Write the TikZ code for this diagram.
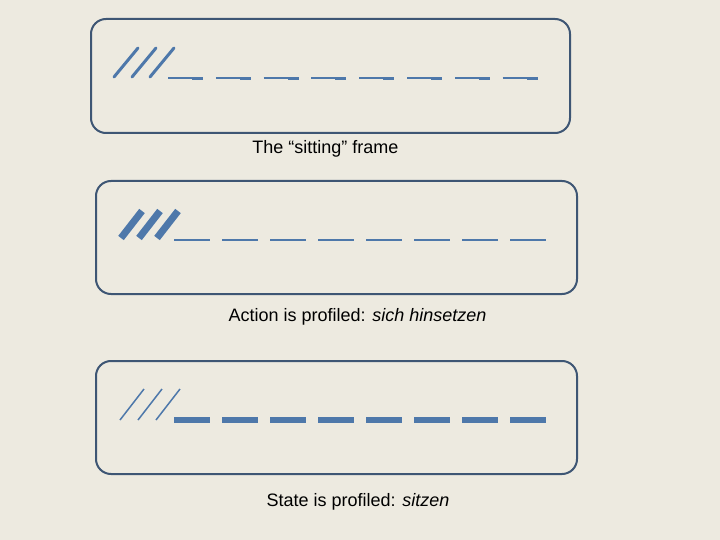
\documentclass[tikz,border=0pt]{standalone}
\usepackage{fontspec}
\setmainfont{Liberation Sans}
\definecolor{bg}{RGB}{237,234,224}
\definecolor{frameC}{RGB}{62,86,116}
\definecolor{lineC}{RGB}{78,120,170}
\begin{document}
\begin{tikzpicture}[x=1pt,y=-1pt,
  framebox/.style={draw=frameC,line width=2pt,rounded corners=15pt,inner sep=0pt,anchor=north west},
  caption/.style={font=\fontsize{18}{21}\selectfont,text=black,inner sep=0pt},
  blueline/.style={draw=lineC}]
\fill[bg] (0,0) rectangle (720,540);
\useasboundingbox (0,0) rectangle (720,540);
% boxes
\node[framebox,minimum width=479pt,minimum height=114pt] (b1) at (90,18) {};
\node[framebox,minimum width=481pt,minimum height=113pt] (b2) at (95,180) {};
\node[framebox,minimum width=481pt,minimum height=113pt] (b3) at (95,360) {};
% captions
\node[caption] (c1) at (325.5,149) {The “sitting” frame};
\node[caption] (c2) at (357.5,317) {Action is profiled: \textit{sich hinsetzen}};
\node[caption] (c3) at (358,502) {State is profiled: \textit{sitzen}};
% box 1 content
\foreach \i in {0,1,2} {
  \draw[blueline,line width=3pt,line cap=round] (114+18*\i,77) -- (138+18*\i,48);
}
\foreach \i in {0,...,7} {
  \draw[blueline,line width=2pt] (168+47.8*\i,78) -- (192+47.8*\i,78);
  \draw[blueline,line width=3pt] (192+47.8*\i,78.3) -- (203+47.8*\i,78.3);
}
% box 2 content
\foreach \i in {0,1,2} {
  \draw[blueline,line width=7pt] (121+18*\i,238) -- (142+18*\i,211);
}
\foreach \i in {0,...,7} {
  \draw[blueline,line width=2.5pt] (174+48*\i,240) -- (210+48*\i,240);
}
% box 3 content
\foreach \i in {0,1,2} {
  \draw[blueline,line width=1.5pt] (120+18*\i,420) -- (144+18*\i,389);
}
\foreach \i in {0,...,7} {
  \draw[blueline,line width=6pt] (174+48*\i,420) -- (210+48*\i,420);
}
\end{tikzpicture}
\end{document}
